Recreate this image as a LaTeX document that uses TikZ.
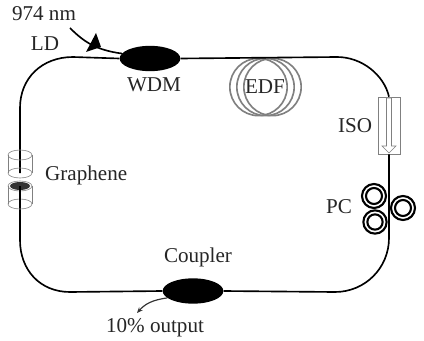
\documentclass[tikz,border=0pt]{standalone}
\usepackage{fontspec}
\setmainfont{Liberation Serif}
\usetikzlibrary{arrows.meta,shapes.geometric,calc}
\tikzset{
  lbl/.style={font=\fontsize{18}{20}\selectfont,inner sep=0pt,text=black!85},
  fiber/.style={line width=1.4pt,black},
  blob/.style={ellipse,fill=black,inner sep=0pt,minimum width=1.82cm,minimum height=0.76cm},
  coil/.style={draw=black!50,line width=1.4pt,circle,inner sep=0pt,minimum size=1.72cm},
  ring/.style={draw=black,line width=1.8pt,circle,inner sep=0pt},
  glass/.style={draw=black!50,line width=0.5pt},
}
\begin{document}
\begin{tikzpicture}[x=0.03cm,y=-0.03cm]
\useasboundingbox (0,0) rectangle (424,341);
\fill [white] (0,0) rectangle (424,341);
% erbium fibre coil
\node [coil] (edfa) at (258.5,87) {};
\node [coil] (edfb) at (265.5,87) {};
\node [coil] (edfc) at (272.5,87) {};
% isolator
\node [glass,fill=white,minimum width=0.66cm,minimum height=1.71cm,inner sep=0pt] (iso) at (389,125.5) {};
% fibre loop
\node [blob] (wdm) at (150,58.5) {};
\node [blob] (coupler) at (193,291) {};
\coordinate (cylup) at (20,173);
\coordinate (cyldown) at (20,186);
\draw [fiber] (wdm.east) -- (337,57) .. controls (362,57) and (384,75) .. (iso.north);
\draw [fiber] (iso.south) -- (389,238) .. controls (389,268) and (365,292) .. (335,292) -- (coupler.east);
\draw [fiber] (coupler.west) -- (70,292) .. controls (40,292) and (20,270) .. (20,240) -- (cyldown);
\draw [fiber] (cylup) -- (20,108) .. controls (20,78) and (42,57) .. (73,57) -- (wdm.west);
% isolator arrow
\draw [black!50,line width=0.5pt,fill=white] (386.5,98) -- (391.5,98) -- (391.5,146) -- (396,146) -- (389,153) -- (382,146) -- (386.5,146) -- cycle;
% pump input
\coordinate (pump) at (70,28);
\draw [fiber] (pump) .. controls (84,42) and (96,50) .. (wdm.170);
\fill (96,33) -- (86,52) -- (101,47) -- cycle;
% polarisation controller
\node [ring,minimum size=0.72cm] (pca) at (374,196) {};
\node [ring,minimum size=0.48cm] at (pca.center) {};
\node [ring,minimum size=0.70cm] (pcb) at (375,222) {};
\node [ring,minimum size=0.46cm] at (pcb.center) {};
\node [ring,minimum size=0.72cm] (pcc) at (403,208) {};
\node [ring,minimum size=0.48cm] at (pcc.center) {};
% graphene between fibre ends
\draw [glass] (8,155) -- (8,173);
\draw [glass] (32,155) -- (32,173);
\draw [glass] (20,155) ellipse (12 and 5);
\draw [glass] (20,173) ellipse (12 and 5);
\draw [glass] (8,186) -- (8,204);
\draw [glass] (32,186) -- (32,204);
\draw [glass] (20,204) ellipse (12 and 5);
\draw [glass] (20,186) ellipse (12 and 5);
\fill [black!80] (20,186) ellipse (10 and 4);
\draw [fiber] (20,186) -- (20,200);
% output port
\coordinate (outp) at (137,313);
\draw [black!80,line width=1pt,-{Stealth[length=5pt,width=4pt]}] (coupler.195) .. controls (152,300) and (145,304) .. (outp);
% labels
\node [lbl] (lbpump) at (44,14) {974 nm};
\node [lbl] (lbld) at (45,44) {LD};
\node [lbl] (lbwdm) at (154,85) {WDM};
\node [lbl] (lbedf) at (265,87) {EDF};
\node [lbl] (lbiso) at (355,126) {ISO};
\node [lbl] (lbpc) at (339,207) {PC};
\node [lbl,anchor=west] (lbgr) at (45,175) {Graphene};
\node [lbl] (lbcoup) at (198,257) {Coupler};
\node [lbl] (lbout) at (155,328) {10\% output};
\end{tikzpicture}
\end{document}
